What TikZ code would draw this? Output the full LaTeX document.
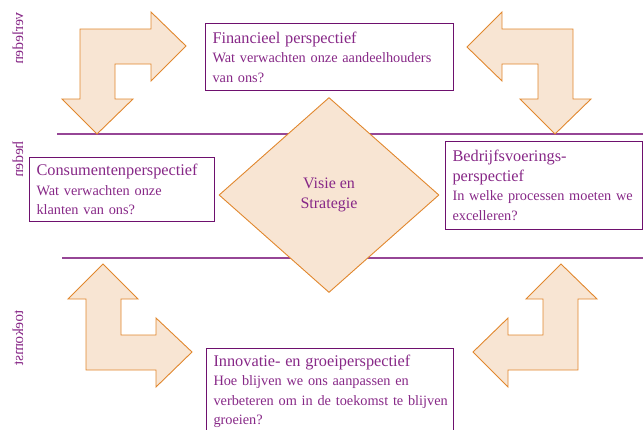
\documentclass[tikz,border=0pt]{standalone}
\usepackage{fontspec}
\setmainfont{Liberation Serif}
\usetikzlibrary{shapes.geometric}
\definecolor{textpurple}{RGB}{135,40,135}
\definecolor{boxpurple}{RGB}{110,16,110}
\definecolor{rulepurple}{RGB}{150,70,150}
\definecolor{arrowfill}{RGB}{248,229,211}
\definecolor{arroworange}{RGB}{225,135,45}
\newcommand\kopfont{\fontsize{16.3}{19.5}\selectfont}
\begin{document}
\begin{tikzpicture}[x=1pt, y=-1pt,
    perspbox/.style={draw=boxpurple, line width=1pt, anchor=north west, align=left, inner xsep=7pt, inner ysep=0pt,
        text=textpurple, font=\fontsize{14.3}{19.5}\selectfont},
    bendarrow/.style={draw=arroworange, fill=arrowfill, line width=0.9pt, line join=miter},
    tijd/.style={text=textpurple, rotate=90, anchor=east, inner sep=0pt, font=\fontsize{15.2}{18}\selectfont}]
    \useasboundingbox (0,0) rectangle (643,429);
        % tijdlijnen
        \draw[rulepurple, line width=1.5pt] (57,134) -- (643,134);
        \draw[rulepurple, line width=1.5pt] (62,258) -- (643,258);
        \node[tijd] (verleden) at (18,12) {\reflectbox{verleden}};
        \node[tijd] (heden) at (18,141) {\reflectbox{heden}};
        \node[tijd] (toekomst) at (18,310) {\reflectbox{toekomst}};
        % pijlen
        \draw[bendarrow] (80,29) -- (151,29) -- (151,12) -- (186,46) -- (151,81) -- (151,64) -- (115,64) -- (115,99) -- (133,99) -- (97,134) -- (62,99) -- (80,99) -- cycle;
        \draw[bendarrow] (573,29) -- (502,29) -- (502,12) -- (467,47) -- (502,81) -- (502,64) -- (538,64) -- (538,99) -- (520,99) -- (555,134) -- (591,99) -- (573,99) -- cycle;
        \draw[bendarrow] (86,370) -- (86,299) -- (68,299) -- (103,264) -- (138,299) -- (121,299) -- (121,335) -- (156,335) -- (156,318) -- (192,352) -- (156,387) -- (156,370) -- cycle;
        \draw[bendarrow] (578,370) -- (578,299) -- (597,299) -- (561,264) -- (526,299) -- (543,299) -- (543,335) -- (508,335) -- (508,318) -- (473,352) -- (508,387) -- (508,370) -- cycle;
        % visie
        \node[diamond, draw=arroworange, fill=arrowfill, line width=0.9pt, minimum width=220pt, minimum height=195pt, inner sep=0pt,
            text=textpurple, align=center, font=\fontsize{16}{20}\selectfont] (visie) at (329,195) {Visie en\\Strategie};
        % perspectieven
        \node[perspbox, text width=234pt, minimum height=67pt] (fin) at (205,23)
            {{\kopfont Financieel perspectief}\\Wat verwachten onze aandeelhouders\\van ons?};
        \node[perspbox, text width=171pt, minimum height=64pt] (cons) at (29,157)
            {{\kopfont Consumentenperspectief}\\Wat verwachten onze\\klanten van ons?};
        \node[perspbox, text width=183pt, minimum height=88pt] (bedr) at (445,141)
            {{\kopfont Bedrijfsvoerings-}\\{\kopfont perspectief}\\In welke processen moeten we\\excelleren?};
        \node[perspbox, text width=233pt, minimum height=86pt] (innov) at (206,348)
            {{\kopfont Innovatie- en groeiperspectief}\\Hoe blijven we ons aanpassen en\\\mbox{verbeteren om in de toekomst te blijven}\\groeien?};
\end{tikzpicture}
\end{document}
